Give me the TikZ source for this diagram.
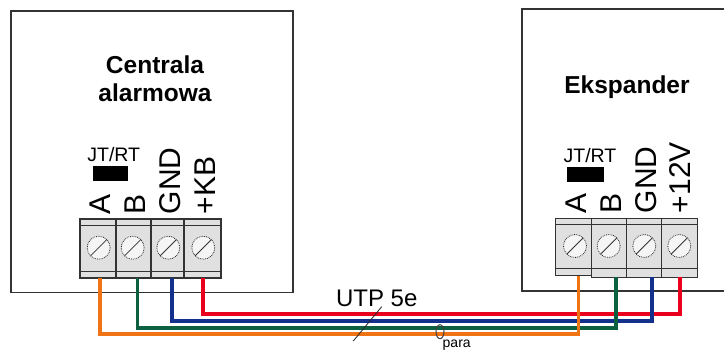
\documentclass[tikz,border=0pt]{standalone}
\usepackage{fontspec}
\setmainfont{Liberation Sans}
\definecolor{wireorange}{HTML}{F07414}
\definecolor{wiregreen}{HTML}{0C6040}
\definecolor{wireblue}{HTML}{12308C}
\definecolor{wirered}{HTML}{E8001C}
\definecolor{cellgray}{HTML}{E0E0E0}
\begin{document}
\begin{tikzpicture}[x=1pt, y=-1pt]
\tikzset{ inner sep=0pt, outer sep=0pt,
  cell/.style={draw=black!80, fill=cellgray, line width=1.1pt, minimum height=59pt},
  screw/.style={circle, draw=black!85, densely dotted, fill=black!4, line width=0.8pt, minimum size=23pt},
  cut/.style={black!80, line width=0.8pt},
  strip/.style={black!80, line width=0.9pt},
  pin/.style={rotate=90, anchor=base west, font=\fontsize{30}{30}\selectfont},
  jumper/.style={font=\fontsize{19.5}{20}\selectfont},
  title/.style={align=center, font=\fontsize{24.5}{28}\selectfont\bfseries},
  wire/.style={line width=3.4pt},
}
\useasboundingbox (0,0) rectangle (724,354);
\fill [white] (0,0) rectangle (724,354);

%\draw [lightgray, dashed](0,0) grid (724,354);

% devices
\draw [black!80, line width=1.3pt] (11,11) rectangle (293,292.5);
\draw [black!80, line width=1.1pt] (724,291) -- (522,291) -- (522,9) -- (724,9);

\node [title] (central) at (155,79) {Centrala\\alarmowa};
\node [title] (expander) at (627,87) {Ekspander};

% left block
\node [cell, minimum width=36pt] (LA) at (98,248.5) {};
\node [cell, minimum width=35pt] (LB) at (133.5,248.5) {};
\node [cell, minimum width=33pt] (LG) at (167.5,248.5) {};
\node [cell, minimum width=37pt] (LK) at (202.5,248.5) {};
\draw [strip] (LA.north west) ++(0,6) -- ++(141,0);
\draw [strip] (LA.south west) ++(0,-7) -- ++(141,0);

\node [screw] (SLA) at (98.7,247.7) {};
\node [screw] (SLB) at (132.7,247.7) {};
\node [screw] (SLG) at (168.3,247.7) {};
\node [screw] (SLK) at (203.3,247.7) {};
\draw [cut] (SLA.south west) -- (SLA.north east);
\draw [cut] (SLB.south west) -- (SLB.north east);
\draw [cut] (SLG.south west) -- (SLG.north east);
\draw [cut] (SLK.south west) -- (SLK.north east);

\node [pin] (pLA) at (110.7,214) {A};
\node [pin] (pLB) at (145,214) {B};
\node [pin] (pLG) at (180,214) {GND};
\node [pin] (pLK) at (215,214) {+KB};

\node [jumper] (jL) at (113.7,155) {JT/RT};
\node [fill=black, minimum width=35.6pt, minimum height=15pt] (bL) at (110.5,173.5) {};

% right block
\node [cell, minimum width=36pt, minimum height=56.5pt] (RA) at (573.7,247) {};
\node [cell, minimum width=35pt, minimum height=58.5pt] (RB) at (609.2,248) {};
\node [cell, minimum width=35pt, minimum height=58.5pt] (RG) at (644.2,248) {};
\node [cell, minimum width=35.5pt, minimum height=58.5pt] (RV) at (679.4,248) {};
\draw [strip] (RA.north west) ++(0,5.5) -- ++(141.3,0);
\draw [strip] (RA.south west) ++(0,-6.5) -- ++(141.3,0);

\node [screw] (SRA) at (575,246) {};
\node [screw] (SRB) at (608.7,246) {};
\node [screw] (SRG) at (644.3,246) {};
\node [screw] (SRV) at (679.3,246) {};
\draw [cut] (SRA.south west) -- (SRA.north east);
\draw [cut] (SRB.south west) -- (SRB.north east);
\draw [cut] (SRG.south west) -- (SRG.north east);
\draw [cut] (SRV.south west) -- (SRV.north east);

\node [pin] (pRA) at (586.7,213) {A};
\node [pin] (pRB) at (621,213) {B};
\node [pin] (pRG) at (656,213) {GND};
\node [pin] (pRV) at (690,213) {+12V};

\node [jumper] (jR) at (590,156) {JT/RT};
\node [fill=black, minimum width=36.7pt, minimum height=15.3pt] (bR) at (585.7,174.3) {};

% cable
\coordinate (wLK) at (203,278);
\coordinate (wLG) at (172,278);
\coordinate (wLB) at (137.5,278);
\coordinate (wLA) at (100,278);
\coordinate (wRV) at (680,277);
\coordinate (wRG) at (652,277);
\coordinate (wRB) at (616,277);
\coordinate (wRA) at (578.5,276);
\coordinate (cRV) at (680,314);
\coordinate (cRG) at (652,321);
\coordinate (cRB) at (616,328);
\coordinate (cRA) at (578.5,334);

\draw [wire, wirered]    (wLK) |- (cRV) -- (wRV);
\draw [wire, wireblue]   (wLG) |- (cRG) -- (wRG);
\draw [wire, wiregreen]  (wLB) |- (cRB) -- (wRB);
\draw [wire, wireorange] (wLA) |- (cRA) -- (wRA);

\node [font=\fontsize{24}{24}\selectfont] (utp) at (376.7,298) {UTP 5e};
\coordinate (tickA) at (381.7,306.7);
\coordinate (tickB) at (353.3,341);
\draw [black!85, line width=0.8pt] (tickA) -- (tickB);
\draw [black!75, line width=1pt] (440,331.7) ellipse (4 and 7);
\node [font=\fontsize{14}{14}\selectfont] (pair) at (456.7,345.5) {para};

\end{tikzpicture}
\end{document}
